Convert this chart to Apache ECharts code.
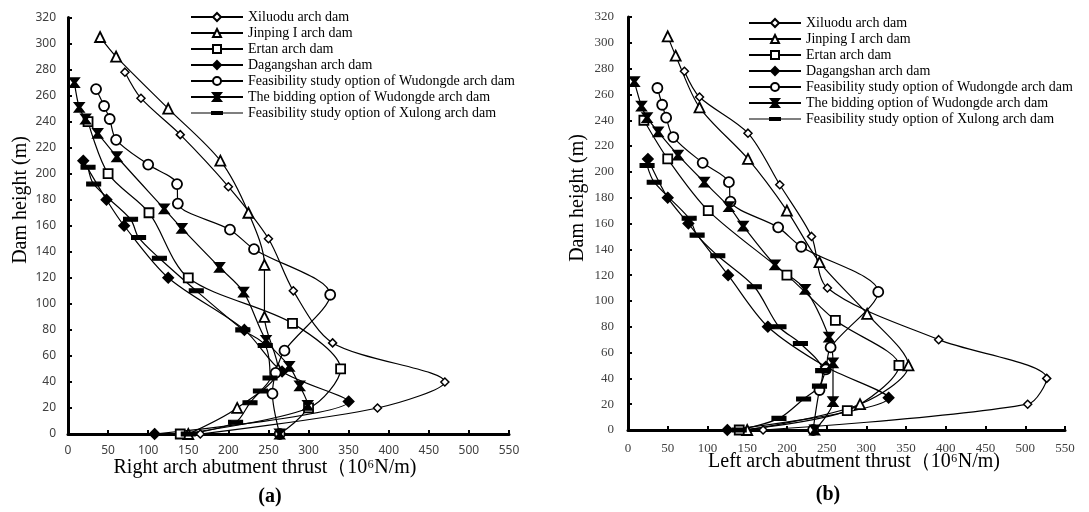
<!DOCTYPE html>
<html>
<head>
<meta charset="utf-8">
<script src="https://cdn.jsdelivr.net/npm/echarts@6/dist/echarts.min.js"></script>
<style>html,body{margin:0;background:#fff}#main{width:1089px;height:512px}</style>
</head>
<body>
<div id="main"></div>
<script>
var chart = echarts.init(document.getElementById('main'));

var seriesNames = [
    'Xiluodu arch dam',
    'Jinping I arch dam',
    'Ertan arch dam',
    'Dagangshan arch dam',
    'Feasibility study option of Wudongde arch dam',
    'The bidding option of Wudongde arch dam',
    'Feasibility study option of Xulong arch dam'
];

// (a) 右拱端推力 Right arch abutment thrust
var xiluoduHa = [278, 258, 230, 190, 150, 110, 70, 40, 20, 0];
var xiluoduRa = [71, 91, 140, 200, 250, 281, 330, 470, 386, 165];
var jinpingHa = [305, 290, 250, 210, 170, 130, 90, 50, 20, 0];
var jinpingRa = [40, 60, 125, 190, 225, 245, 245, 262, 211, 150];
var ertanHa = [240, 200, 170, 120, 85, 50, 20, 0];
var ertanRa = [25, 50, 101, 150, 280, 340, 300, 140];
var dagangHa = [210, 180, 160, 120, 80, 48, 25, 0];
var dagangRa = [19, 48, 70, 125, 220, 267, 350, 108];
var wudFeasHa = [265, 252, 242, 226, 207, 192, 177, 157, 142, 107, 64, 47, 31, 0];
var wudFeasRa = [35, 45, 52, 60, 100, 136, 137, 202, 232, 327, 270, 259, 255, 264];
var wudBidHa = [270, 251, 242, 231, 213, 173, 158, 128, 109, 72, 52, 37, 22, 0];
var wudBidRa = [8, 14, 22, 37, 61, 120, 142, 189, 219, 247, 276, 289, 299, 264];
var xulongHa = [205, 192, 165, 151, 135, 110, 80, 68, 43, 33, 24, 9, 0];
var xulongRa = [25, 32, 78, 88, 114, 160, 218, 246, 252, 240, 227, 209, 150];

// (b) 左拱端推力 Left arch abutment thrust
var xiluoduHb = [278, 258, 230, 190, 150, 110, 70, 40, 20, 0];
var xiluoduLb = [71, 90, 151, 191, 231, 251, 391, 527, 503, 170];
var jinpingHb = [305, 290, 250, 210, 170, 130, 90, 50, 20, 0];
var jinpingLb = [50, 60, 90, 151, 200, 241, 301, 353, 292, 150];
var ertanHb = [240, 210, 170, 120, 85, 50, 15, 0];
var ertanLb = [20, 50, 101, 200, 261, 341, 276, 140];
var dagangHb = [210, 180, 160, 120, 80, 49, 25, 0];
var dagangLb = [25, 50, 76, 126, 176, 249, 328, 125];
var wudFeasHb = [265, 252, 242, 227, 207, 192, 177, 157, 142, 107, 64, 47, 31, 0];
var wudFeasLb = [37, 43, 48, 57, 94, 127, 129, 189, 218, 315, 255, 249, 241, 233];
var wudBidHb = [270, 251, 242, 231, 213, 192, 173, 158, 128, 109, 72, 52, 22, 0];
var wudBidLb = [8, 17, 24, 38, 63, 96, 127, 145, 185, 223, 253, 258, 258, 235];
var xulongHb = [205, 192, 164, 151, 135, 111, 80, 67, 46, 34, 24, 9, 0];
var xulongLb = [24, 33, 77, 87, 113, 159, 190, 217, 245, 241, 221, 190, 140];

var xTicks = [0, 550, 50];
var yTicks = [0, 320, 20];

// 标记样式
var hourglass = 'path://M0,0 L10,0 L6.2,5 L10,10 L0,10 L3.8,5 Z';
var symbols = ['diamond', 'triangle', 'rect', 'diamond', 'circle', hourglass, 'rect'];
var sizes = [8, 10, 9, 10, 10, 9, [12, 4]];
var fills = ['#fff', '#fff', '#fff', '#000', '#fff', '#000', '#000'];
// 图例里的短横线标记（线 + 横条）
var dashIcon = 'path://M0,4.4 L52,4.4 L52,5.6 L0,5.6 Z M20,3 L32,3 L32,7 L20,7 Z';

function pairs(x, h) {
    return h.map(function (v, i) { return [x[i], v]; });
}

var panelA = [
    pairs(xiluoduRa, xiluoduHa), pairs(jinpingRa, jinpingHa), pairs(ertanRa, ertanHa),
    pairs(dagangRa, dagangHa), pairs(wudFeasRa, wudFeasHa), pairs(wudBidRa, wudBidHa),
    pairs(xulongRa, xulongHa)
];
var panelB = [
    pairs(xiluoduLb, xiluoduHb), pairs(jinpingLb, jinpingHb), pairs(ertanLb, ertanHb),
    pairs(dagangLb, dagangHb), pairs(wudFeasLb, wudFeasHb), pairs(wudBidLb, wudBidHb),
    pairs(xulongLb, xulongHb)
];

function makeSeries(list, idx) {
    return list.map(function (d, i) {
        return {
            name: seriesNames[i],
            type: 'line',
            xAxisIndex: idx,
            yAxisIndex: idx,
            data: d,
            smooth: 0.3,
            symbol: symbols[i],
            symbolSize: sizes[i],
            showAllSymbol: true,
            lineStyle: { color: '#000', width: 1.2 },
            itemStyle: { color: fills[i], borderColor: '#000', borderWidth: i === 0 ? 1.5 : 1.8 },
            animation: false
        };
    });
}

function axisX(idx, font) {
    return {
        type: 'value', gridIndex: idx, min: xTicks[0], max: xTicks[1], interval: xTicks[2],
        splitLine: { show: false },
        axisLine: { onZero: false, lineStyle: { color: '#000', width: 3 } },
        axisTick: { inside: true, length: 4, lineStyle: { color: '#000', width: 2 } },
        axisLabel: { color: '#404040', fontFamily: font, fontSize: idx === 0 ? 12 : 13, margin: idx === 0 ? 11 : 12 }
    };
}
function axisY(idx, font) {
    return {
        type: 'value', gridIndex: idx, min: yTicks[0], max: yTicks[1], interval: yTicks[2],
        splitLine: { show: false },
        axisLine: { onZero: false, lineStyle: { color: '#000', width: 3 } },
        axisTick: { inside: true, length: 4, lineStyle: { color: '#000', width: 2 } },
        axisLabel: { color: '#404040', fontFamily: font, fontSize: idx === 0 ? 12 : 13, margin: idx === 0 ? 12 : 14 }
    };
}

function legendAt(left, top, w) {
    var items = seriesNames.map(function (n, i) {
        if (i === 6) return { name: n, icon: dashIcon, itemStyle: { borderWidth: 0 } };
        return { name: n };
    });
    return {
        orient: 'vertical', left: left, top: top,
        itemWidth: w, itemHeight: 10, itemGap: 2,
        data: items,
        textStyle: { fontFamily: 'Liberation Serif', fontSize: 14, color: '#000', lineHeight: 14 }
    };
}

var serif = 'Liberation Serif';
var nameFont = '20px "Liberation Serif"';

chart.setOption({
    backgroundColor: '#fff',
    animation: false,
    grid: [
        { left: 68, right: 580, top: 17.5, bottom: 78, outerBoundsMode: 'none' },
        { left: 628, right: 24, top: 17, bottom: 82, outerBoundsMode: 'none' }
    ],
    xAxis: [axisX(0, 'Noto Sans'), axisX(1, serif)],
    yAxis: [axisY(0, 'Noto Sans'), axisY(1, serif)],
    legend: [legendAt(185, 5, 52), legendAt(743, 11, 52)],
    graphic: [
        { type: 'text', x: 21, y: 200, rotation: Math.PI / 2,
          style: { text: 'Dam height (m)', font: nameFont, fill: '#000', textAlign: 'center', textVerticalAlign: 'middle' } },
        { type: 'text', x: 578, y: 198, rotation: Math.PI / 2,
          style: { text: 'Dam height (m)', font: nameFont, fill: '#000', textAlign: 'center', textVerticalAlign: 'middle' } },
        { type: 'text', x: 265, y: 468,
          style: { text: 'Right arch abutment thrust（10⁶N/m)', font: nameFont, fill: '#000', textAlign: 'center', textVerticalAlign: 'middle' } },
        { type: 'text', x: 854, y: 462,
          style: { text: 'Left arch abutment thrust（10⁶N/m)', font: nameFont, fill: '#000', textAlign: 'center', textVerticalAlign: 'middle' } },
        { type: 'text', x: 270, y: 497,
          style: { text: '(a)', font: 'bold 20px "Liberation Serif"', fill: '#000', textAlign: 'center', textVerticalAlign: 'middle' } },
        { type: 'text', x: 828, y: 495,
          style: { text: '(b)', font: 'bold 20px "Liberation Serif"', fill: '#000', textAlign: 'center', textVerticalAlign: 'middle' } }
    ],
    series: makeSeries(panelA, 0).concat(makeSeries(panelB, 1))
});
</script>
</body>
</html>
